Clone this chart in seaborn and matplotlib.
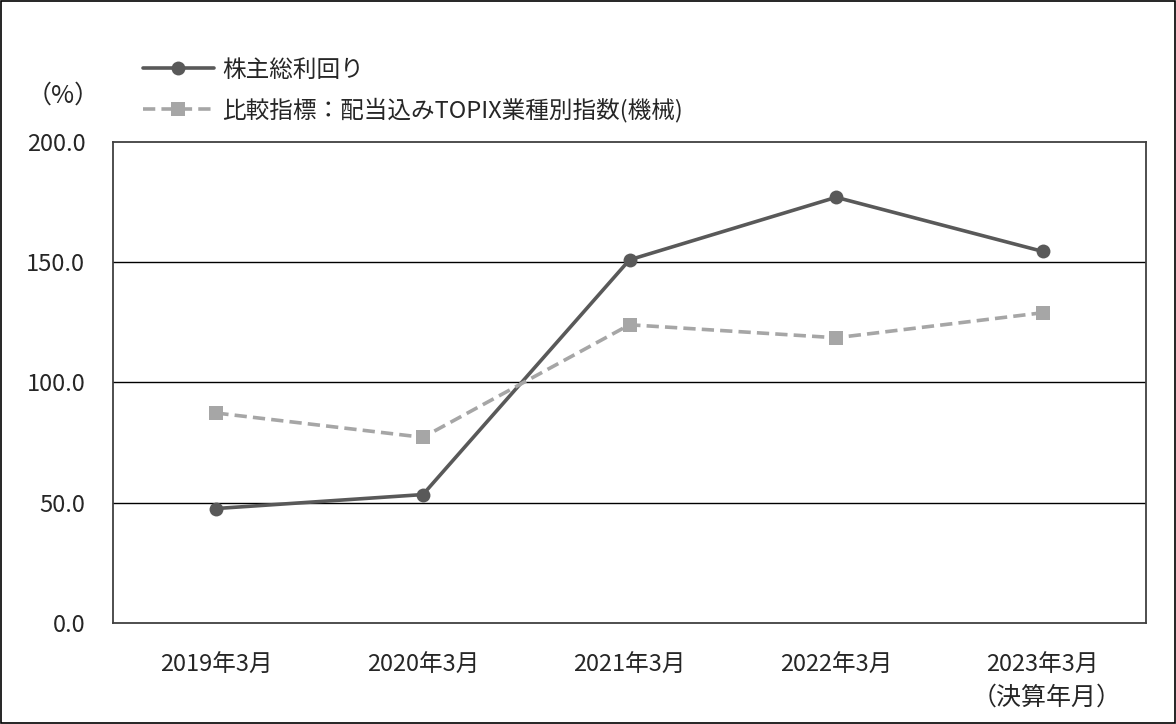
import matplotlib
matplotlib.use("Agg")
import matplotlib.pyplot as plt
import seaborn as sns
import pandas as pd
from matplotlib.patches import Rectangle

# Data
years = ["2019年3月", "2020年3月", "2021年3月", "2022年3月", "2023年3月"]
tsr = [47.6, 53.4, 151.0, 177.0, 154.5]
topix_machinery = [87.3, 77.2, 124.0, 118.6, 129.0]
series_names = ["株主総利回り", "比較指標：配当込みTOPIX業種別指数(機械)"]
y_ticks = [0, 50, 100, 150, 200]

sns.set_theme(style="white")
plt.rcParams["font.family"] = ["Noto Sans CJK JP", "DejaVu Sans"]

df = pd.DataFrame({
    "pos": list(range(len(years))) * 2,
    "value": tsr + topix_machinery,
    "series": [series_names[0]] * len(years) + [series_names[1]] * len(years),
})

TEXT_COLOR = "#262626"
DARK = "#595959"
LIGHT = "#a6a6a6"

fig = plt.figure(figsize=(11.76, 7.24), dpi=100)
ax = fig.add_axes([0.0961, 0.1395, 0.8784, 0.6644])

sns.lineplot(
    data=df, x="pos", y="value", hue="series", style="series",
    palette=[DARK, LIGHT],
    markers=["o", "s"], dashes=[(1, 0), (3.4, 1.7)],
    linewidth=2.6, markersize=10, markeredgewidth=0,
    ax=ax, legend=False,
)

ax.set_xlim(-0.5, len(years) - 0.5)
ax.set_ylim(0, 200)
ax.set_xticks(range(len(years)))
ax.set_xticklabels(years, fontsize=17, color=TEXT_COLOR)
ax.set_yticks(y_ticks)
ax.set_yticklabels([f"{v:.1f}" for v in y_ticks], fontsize=17, color=TEXT_COLOR)
ax.tick_params(axis="x", pad=22, length=0)
ax.tick_params(axis="y", pad=20, length=0)
ax.set_xlabel("")
ax.set_ylabel("")

for v in [50, 100, 150]:
    ax.axhline(v, color="black", linewidth=1.0, zorder=0)
for s in ax.spines.values():
    s.set_visible(True)
    s.set_color("#404040")
    s.set_linewidth(1.3)

# legend above the plot
handles = [
    plt.Line2D([], [], color=DARK, linewidth=2.6, marker="o", markersize=10, markeredgewidth=0),
    plt.Line2D([], [], color=LIGHT, linewidth=2.6, linestyle=(0, (3.4, 1.7)), marker="s",
               markersize=10, markeredgewidth=0),
]
fig.legend(
    handles, series_names, loc="upper left", bbox_to_anchor=(0.1216, 0.919),
    frameon=False, fontsize=17, handlelength=3.0, handletextpad=0.36,
    labelspacing=0.68, borderaxespad=0, borderpad=0,
)

fig.text(0.054, 0.868, "（%）", fontsize=18, color=TEXT_COLOR, va="center", ha="center")
fig.text(0.890, 0.036, "（決算年月）", fontsize=18, color=TEXT_COLOR, ha="center", va="center")

# outer border around the whole figure
fig.patches.append(Rectangle((0.001, 0.001), 0.998, 0.998, transform=fig.transFigure,
                             fill=False, edgecolor="black", linewidth=1.2))

fig.savefig("out.png", dpi=100)
